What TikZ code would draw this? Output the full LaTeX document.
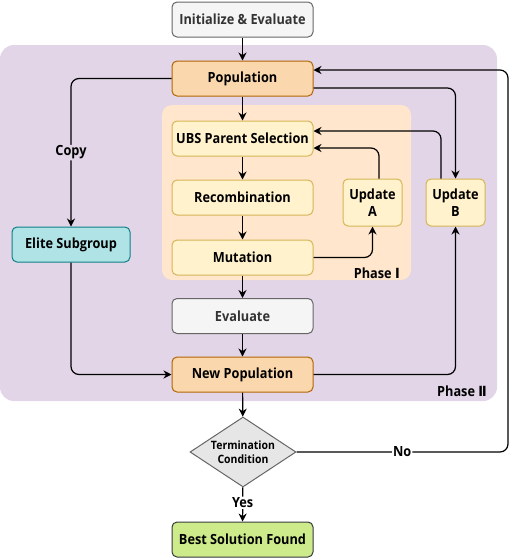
\documentclass[tikz,border=0pt]{standalone}
\usepackage{fontspec}
\setmainfont{Open Sans}[FakeStretch=0.91]
\newfontfamily\romfont{DejaVu Sans}[FakeStretch=0.91]
\usetikzlibrary{shapes.geometric,arrows.meta}
\definecolor{grayfill}{HTML}{F5F5F5}
\definecolor{graydraw}{HTML}{666666}
\definecolor{graytext}{HTML}{333333}
\definecolor{orfill}{HTML}{FAD7AC}
\definecolor{ordraw}{HTML}{B46504}
\definecolor{yefill}{HTML}{FFF2CC}
\definecolor{yedraw}{HTML}{D6B656}
\definecolor{tefill}{HTML}{B0E3E6}
\definecolor{tedraw}{HTML}{0E8088}
\definecolor{grfill}{HTML}{CDEB8B}
\definecolor{grdraw}{HTML}{36393D}
\definecolor{purbg}{HTML}{E1D5E7}
\definecolor{peachbg}{HTML}{FFE6CC}
\definecolor{diafill}{HTML}{E6E6E6}
\begin{document}
\begin{tikzpicture}[x=1pt,y=-1pt,
  base/.style={rounded corners=5pt, line width=1pt, minimum width=141pt, minimum height=35pt, inner sep=0pt, align=center, font=\fontsize{14}{16.5}\selectfont\bfseries},
  graybox/.style={base, fill=grayfill, draw=graydraw, text=graytext},
  orbox/.style={base, fill=orfill, draw=ordraw},
  yebox/.style={base, fill=yefill, draw=yedraw},
  upbox/.style={yebox, minimum width=59pt, minimum height=47pt},
  tebox/.style={base, fill=tefill, draw=tedraw, minimum width=118pt},
  grbox/.style={base, fill=grfill, draw=grdraw},
  conn/.style={line width=1.2pt, rounded corners=8pt, -{Stealth[length=8pt,width=8pt]}},
  lbl/.style={font=\fontsize{14}{16.5}\selectfont\bfseries, inner sep=1pt},
  bglbl/.style={font=\fontsize{14}{16.5}\selectfont\bfseries, anchor=south east, inner sep=0pt},
]
\useasboundingbox (0,0) rectangle (510,560);
% backgrounds
\fill[purbg, rounded corners=14pt] (0,45) rectangle (497,401);
\fill[peachbg, rounded corners=10pt] (162,105) rectangle (411,280);
\node[bglbl] (ph1) at (400,279) {Phase {\romfont\bfseries Ⅰ}};
\node[bglbl] (ph2) at (487,397) {Phase {\romfont\bfseries Ⅱ}};
% nodes
\node[graybox] (init) at (242.5,19.5) {Initialize \& Evaluate};
\node[orbox] (pop) at (242.5,78.5) {Population};
\node[yebox] (ubs) at (242.5,138.5) {UBS Parent Selection};
\node[yebox] (rec) at (242.5,197.5) {Recombination};
\node[yebox] (mut) at (242.5,257.5) {Mutation};
\node[graybox] (eval) at (242.5,316) {Evaluate};
\node[orbox] (newpop) at (242.5,374.5) {New Population};
\node[tebox] (elite) at (71,244.5) {Elite Subgroup};
\node[upbox] (upa) at (372.5,202.5) {Update\\A};
\node[upbox] (upb) at (455.5,202.5) {Update\\B};
\node[diamond, aspect=1.514, minimum width=106pt, minimum height=70pt, inner sep=0pt, fill=diafill, draw=graydraw, line width=1pt, align=center, font=\fontsize{11.5}{13.5}\selectfont\bfseries] (term) at (243,452) {Termination\\Condition};
\node[grbox] (best) at (242.5,539.5) {Best Solution Found};
\coordinate (ret) at (508,452);
% connectors
\draw[conn] (init) -- (pop);
\draw[conn] (pop) -- (ubs);
\draw[conn] (ubs) -- (rec);
\draw[conn] (rec) -- (mut);
\draw[conn] (mut) -- (eval);
\draw[conn] (eval) -- (newpop);
\draw[conn] (newpop) -- (term);
\draw[conn] (term) -- node[lbl, fill=white, pos=0.45] {Yes} (best);
\draw[conn] (pop.west) -| node[lbl, fill=purbg, pos=0.75] {Copy} (elite.north);
\draw[conn] (pop.east |- 0,88) -| (upb.north);
\draw[conn] (term.east) -- node[lbl, fill=white, pos=0.5] {No} (ret) |- (pop.east |- 0,70);
\draw[conn] (mut.east) -| (upa.south);
\draw[conn] (upa.north -| 379,0) |- (ubs.east |- 0,148);
\draw[conn] (upb.north -| 441,0) |- (ubs.east |- 0,131);
\draw[conn] (elite.south) |- (newpop.west);
\draw[conn] (newpop.east) -| (upb.south);
\end{tikzpicture}
\end{document}
